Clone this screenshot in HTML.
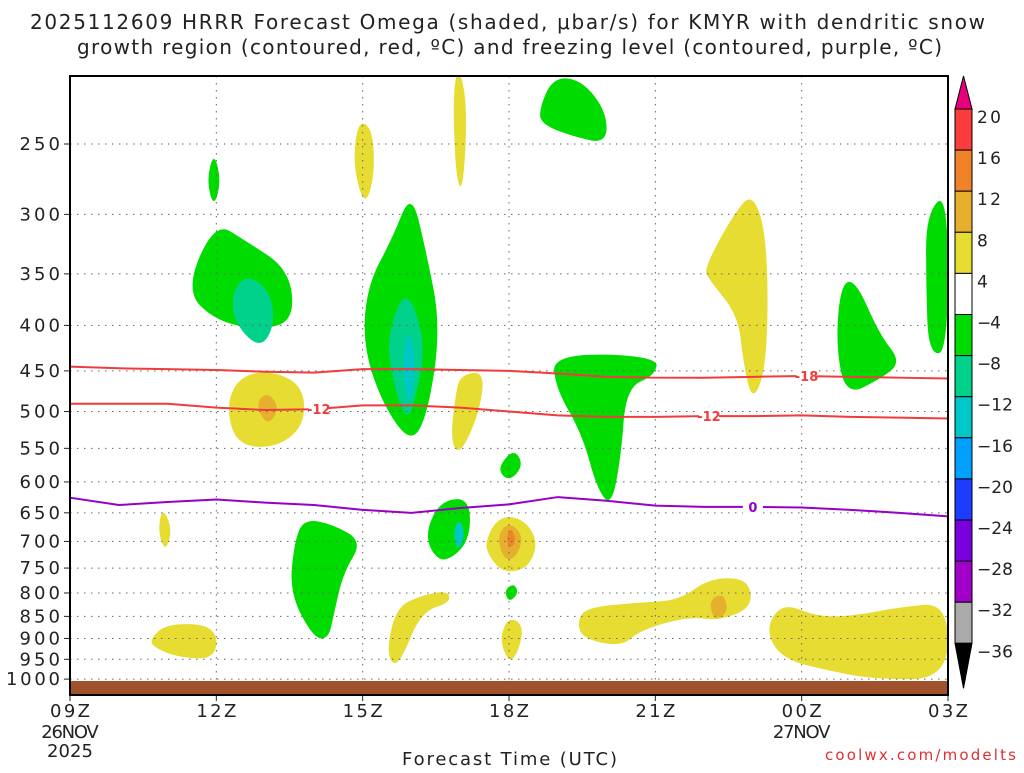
<!DOCTYPE html>
<html><head><meta charset="utf-8"><style>
body{margin:0;background:#fff;width:1024px;height:768px;overflow:hidden;font-family:"Liberation Sans",sans-serif}
svg text{font-family:"DejaVu Sans","Liberation Sans",sans-serif;fill:#222}
</style></head><body>
<svg id="c" width="1024" height="768">
<text x="30" y="29" font-size="20" textLength="955" lengthAdjust="spacing">2025112609 HRRR Forecast Omega (shaded, μbar/s) for KMYR with dendritic snow</text>
<text x="77" y="54" font-size="20" textLength="865" lengthAdjust="spacing">growth region (contoured, red, ºC) and freezing level (contoured, purple, ºC)</text>
<g id="fills"></g><g id="grid"></g><g id="lines"></g><g id="axes"></g><g id="cbar"></g>
<text x="402" y="765" font-size="18" textLength="215" lengthAdjust="spacing">Forecast Time (UTC)</text>
<text x="825" y="760" font-size="15" textLength="191" lengthAdjust="spacing" style="fill:#e03030">coolwx.com/modelts</text>
</svg>
<script>
const xTicks=[0,3,6,9,12,15,18];
const xTickLabels=["09Z","12Z","15Z","18Z","21Z","00Z","03Z"];
const pLevels=[250,300,350,400,450,500,550,600,650,700,750,800,850,900,950,1000];
const cbLabels=["20","16","12","8","4","−4","−8","−12","−16","−20","−24","−28","−32","−36"];
const cbColors=["#fa3c3c","#f08228","#e6af2d","#e6dc32","#ffffff","#00dc00","#00d28c","#00c8c8","#00a0ff","#1e3cff","#7800dc","#a000c8","#aaaaaa"];
const hours=[0,1,2,3,4,5,6,7,8,9,10,11,12,13,14,15,16,17,18];
const iso18=[445,447,448,449,451,452,448,448,449,450,453,457,458,458,457,456,457,458,459];
const iso12=[490,490,490,495,498,497,492,492,495,500,505,507,507,506,506,505,507,508,509];
const frz0=[625,637,632,628,633,637,645,650,642,636,624,630,638,640,640,641,645,650,656];
const blobs=[
["#00dc00",[[2.95,255],[3.1,275],[2.95,295],[2.8,275]]],
["#00dc00",[[2.97,306],[3.59,321],[4.5,346],[4.6,395],[3.9,405],[2.97,395],[2.36,365]]],
["#00d28c",[[3.3,370],[3.6,350],[4.1,365],[4.2,400],[3.9,425],[3.4,400]]],
["#e6dc32",[[5.9,235],[6.2,240],[6.25,270],[6.05,295],[5.8,265]]],
["#e6dc32",[[7.85,215],[8.0,205],[8.15,230],[8.05,285],[7.9,270]]],
["#00dc00",[[9.6,230],[9.9,210],[10.5,212],[11.0,230],[11.0,250],[10.3,245],[9.7,238]]],
["#00dc00",[[7.0,282],[7.3,330],[7.6,400],[7.35,500],[7.0,545],[6.4,490],[6.0,420],[6.1,360],[6.6,320]]],
["#00d28c",[[6.9,360],[7.3,420],[7.1,480],[6.9,515],[6.6,460],[6.5,410]]],
["#00c8c8",[[6.95,400],[7.1,445],[6.95,500],[6.8,445]]],
["#e6dc32",[[3.2,490],[3.5,455],[4.2,450],[4.8,470],[4.8,520],[4.2,550],[3.4,545]]],
["#e6af2d",[[3.8,490],[4.05,475],[4.3,495],[4.05,520]]],
["#e6dc32",[[8.0,455],[8.5,450],[8.4,500],[8.0,560],[7.8,540],[7.9,480]]],
["#00dc00",[[9.9,430],[12.05,433],[12.0,455],[11.4,470],[11.3,560],[11.1,640],[10.8,610],[10.5,530],[9.95,470]]],
["#00dc00",[[8.75,580],[9.1,550],[9.3,575],[9.0,600]]],
["#e6dc32",[[13.0,345],[13.6,300],[14.0,283],[14.3,320],[14.3,440],[14.0,490],[13.8,440],[13.7,390],[13.1,355]]],
["#00dc00",[[15.8,360],[16.1,355],[16.6,410],[17.05,440],[16.6,460],[15.9,480],[15.7,420]]],
["#00dc00",[[17.55,300],[18,282],[18,430],[17.6,430],[17.55,360]]],
["#e6dc32",[[1.9,640],[2.1,680],[1.95,720],[1.8,680]]],
["#00dc00",[[7.3,680],[7.6,630],[8.2,625],[8.2,700],[7.7,740],[7.4,720]]],
["#00c8c8",[[7.85,680],[8.0,660],[8.1,690],[7.95,720]]],
["#e6dc32",[[8.5,700],[8.8,655],[9.3,660],[9.6,700],[9.4,750],[8.9,760],[8.6,730]]],
["#e6af2d",[[8.75,690],[9.0,665],[9.3,690],[9.15,730],[8.9,735]]],
["#f08228",[[8.95,690],[9.05,675],[9.15,700],[9.0,715]]],
["#00dc00",[[4.8,660],[5.4,670],[6.0,700],[5.6,760],[5.4,850],[5.3,900],[5.0,900],[4.5,800],[4.6,700]]],
["#00dc00",[[8.9,795],[9.1,780],[9.2,800],[9.0,820]]],
["#e6dc32",[[1.65,900],[2.0,865],[3.0,870],[3.0,950],[2.2,945],[1.7,920]]],
["#e6dc32",[[6.5,920],[6.7,830],[7.2,805],[7.75,795],[7.8,820],[7.2,840],[6.8,950],[6.6,965]]],
["#e6dc32",[[8.8,900],[9.0,850],[9.3,870],[9.2,930],[9.0,960]]],
["#e6dc32",[[10.4,860],[10.6,830],[11.7,820],[12.5,815],[13.1,770],[13.9,770],[14.0,830],[13.3,860],[12.7,850],[11.7,880],[11.3,920],[10.5,900]]],
["#e6af2d",[[13.1,815],[13.4,800],[13.5,840],[13.2,860]]],
["#e6dc32",[[14.25,880],[14.6,820],[15.3,850],[16.0,850],[17.0,830],[18,820],[18,1000],[16.5,1000],[15.6,980],[14.6,950]]]
];
const L=70,R=948,T=76,B=695;
const X=h=>L+h*(R-L)/18;
const Y=p=>144+386*Math.log(p/250);
const NS="http://www.w3.org/2000/svg";
function mk(tag,at,par){const e=document.createElementNS(NS,tag);for(const k in at)e.setAttribute(k,at[k]);document.getElementById(par).appendChild(e);return e;}
const defs=document.createElementNS(NS,"defs");defs.innerHTML='<clipPath id="pc"><rect x="'+L+'" y="'+T+'" width="'+(R-L)+'" height="'+(B-T)+'"/></clipPath>';document.getElementById('c').prepend(defs);
document.getElementById('fills').setAttribute('clip-path','url(#pc)');
blobs.forEach((b,i)=>{
 const pts=b[1].map(q=>[X(q[0]),Y(q[1])]);const n=pts.length;
 let d="";
 for(let k=0;k<n;k++){const a=pts[k],c=pts[(k+1)%n];const m=[(a[0]+c[0])/2,(a[1]+c[1])/2];
  if(k==0){const z=pts[n-1];d+="M"+((z[0]+a[0])/2)+","+((z[1]+a[1])/2);}
  d+=" Q"+a[0]+","+a[1]+" "+m[0]+","+m[1];}
 const e=mk("path",{d:d+"Z",fill:b[0]},"fills");
 
 
});
const gr=mk("rect",{x:L,y:681,width:R-L,height:B-681,fill:"#a0522d"},"fills");


pLevels.forEach(p=>{
 const g=mk("line",{x1:L,x2:R,y1:Y(p),y2:Y(p),stroke:"#666","stroke-dasharray":"1.5,5.5"},"grid");
 
 
 mk("line",{x1:L-6,x2:L,y1:Y(p),y2:Y(p),stroke:"#222"},"axes");
 const s=String(p);
 const t=mk("text",{x:L-10-s.length*13.5,y:Y(p)+6,"font-size":"18",textLength:s.length*13.5,lengthAdjust:"spacing"},"axes");t.textContent=s;
 
 
});
xTicks.forEach((h,i)=>{
 if(i>0&&i<6){const g=mk("line",{x1:X(h),x2:X(h),y1:T,y2:B,stroke:"#666","stroke-dasharray":"1.5,5.5"},"grid");
 
 }
 mk("line",{x1:X(h),x2:X(h),y1:B,y2:B+6,stroke:"#222"},"axes");
 const t=mk("text",{x:X(h)-20,y:B+22,"font-size":"18",textLength:"40",lengthAdjust:"spacing"},"axes");t.textContent=xTickLabels[i];
 
 
});
[["26NOV",0,738],["2025",0,757],["27NOV",15,738]].forEach(s=>{const w=s[0].length*11.5;const t=mk("text",{x:X(s[1])-w/2,y:s[2],"font-size":"18",textLength:w,lengthAdjust:"spacing"},"axes");t.textContent=s[0];
 
 });
const fr=mk("rect",{x:L,y:T,width:R-L,height:B-T,fill:"none",stroke:"#000","stroke-width":"2"},"axes");


function line(vals,col,name,labels,txt){
 const d=hours.map((h,i)=>(i?"L":"M")+X(h)+","+Y(vals[i])).join(" ");
 const e=mk("path",{d:d,fill:"none",stroke:col,"stroke-width":"2"},"lines");
 
 
 labels.forEach(h=>{const v=vals[Math.round(h)];
  mk("rect",{x:X(h)-10,y:Y(v)-7,width:20,height:14,fill:"#fff"},"lines");
  const t=mk("text",{x:X(h),y:Y(v)+5,"text-anchor":"middle","font-size":"13","font-weight":"bold",style:"fill:"+col},"lines");t.textContent=txt;
  
  });
}
line(iso18,"#f03c3c","isotherm-minus18",[15.1],"-18");
line(iso12,"#f03c3c","isotherm-minus12",[5.1,13.1],"-12");
line(frz0,"#9600c8","freezing-level",[14],"0");
const cx=955,cw=17,ct=109,bh=41.1;
const tri=mk("polygon",{points:`${cx},${ct} ${cx+cw},${ct} ${cx+cw/2},${ct-33}`,fill:"#e6007e",stroke:"#000"},"cbar");


cbColors.forEach((c,i)=>{const r=mk("rect",{x:cx,y:ct+i*bh,width:cw,height:bh,fill:c,stroke:"#000"},"cbar");
 
 });
const yb=ct+cbColors.length*bh;
const tr2=mk("polygon",{points:`${cx},${yb} ${cx+cw},${yb} ${cx+cw/2},${yb+45}`,fill:"#000",stroke:"#000"},"cbar");


cbLabels.forEach((s,i)=>{const w=s.length*12;const t=mk("text",{x:977,y:ct+i*bh+14,"font-size":"17",textLength:w,lengthAdjust:"spacing"},"cbar");t.textContent=s;
 
 });
</script>
</body></html>
